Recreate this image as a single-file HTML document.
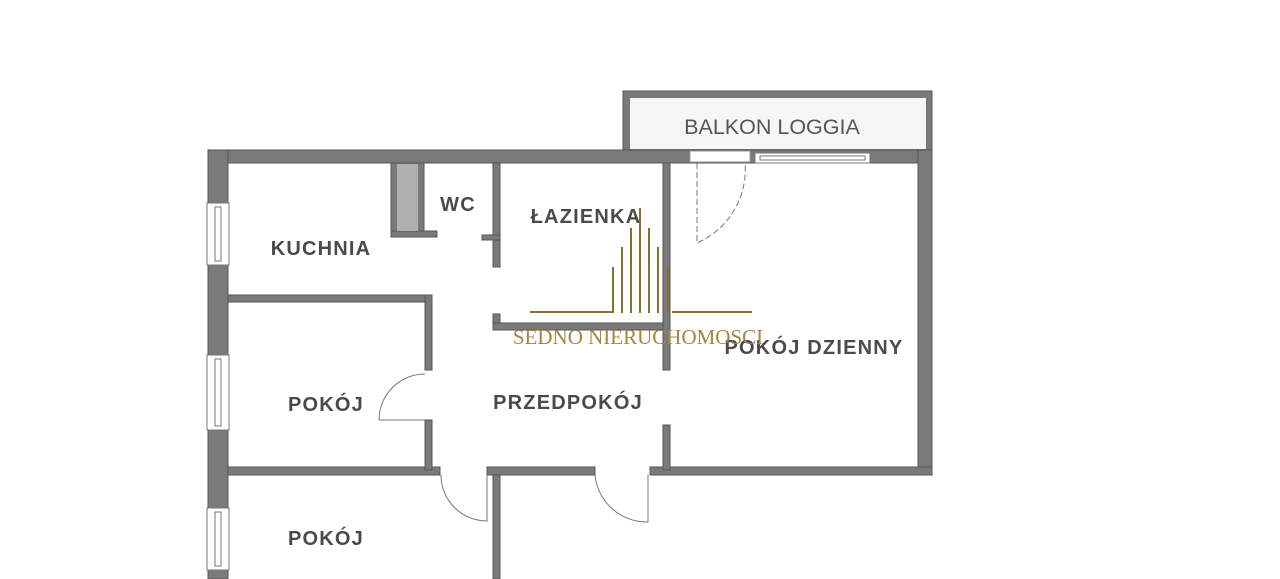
<!DOCTYPE html>
<html><head><style>
html,body{margin:0;padding:0;background:#fff;}
svg{display:block;}
text{font-family:"Liberation Sans",sans-serif;font-weight:bold;fill:#4a4a4a;}
.l{font-size:20px;letter-spacing:1.2px;}
</style></head><body>
<svg width="1280" height="579" viewBox="0 0 1280 579" xmlns="http://www.w3.org/2000/svg">
<rect width="1280" height="579" fill="#fff"/>
<g fill="#7a7a7a" stroke="#555" stroke-width="1">
<rect x="623" y="91" width="309" height="59"/>
</g>
<rect x="630" y="98" width="296" height="51" fill="#f6f6f6"/>
<g fill="#7a7a7a" stroke="#555" stroke-width="1">
<rect x="208" y="150" width="724" height="13"/>
<rect x="208" y="150" width="20" height="429"/>
<rect x="918" y="150" width="14" height="325"/>
<rect x="650" y="467" width="282" height="8"/>
<rect x="487" y="467" width="108" height="8"/>
<rect x="228" y="467" width="212" height="8"/>
<rect x="228" y="295" width="204" height="7"/>
<rect x="425" y="295" width="7" height="75"/>
<rect x="425" y="420" width="7" height="50"/>
<rect x="391" y="163" width="33" height="74"/>
<rect x="391" y="231" width="46" height="6"/>
<rect x="493" y="163" width="7" height="104"/>
<rect x="482" y="235" width="18" height="5"/>
<rect x="493" y="314" width="7" height="16"/>
<rect x="493" y="323" width="172" height="7"/>
<rect x="663" y="163" width="7" height="207"/>
<rect x="663" y="425" width="7" height="45"/>
<rect x="493" y="475" width="7" height="104"/>
</g>
<rect x="397" y="164" width="21" height="67" fill="#b0b0b0"/>
<rect x="690" y="151" width="60" height="11" fill="#fff" stroke="#999"/>
<rect x="755" y="153" width="115" height="10" fill="#fff" stroke="#777"/>
<rect x="760" y="156" width="105" height="4" fill="#fff" stroke="#777"/>
<g fill="#fff" stroke="#777">
<rect x="207" y="203" width="22" height="62"/><rect x="215" y="207" width="6" height="54"/>
<rect x="207" y="355" width="22" height="75"/><rect x="215" y="359" width="6" height="67"/>
<rect x="207" y="508" width="22" height="62"/><rect x="215" y="512" width="6" height="54"/>
</g>
<g fill="none" stroke="#777" stroke-width="1">
<path d="M697 163 V243 A80 80 0 0 0 745 163" stroke-dasharray="6 3"/>
<path d="M425 420 H379 A46 46 0 0 1 425 374"/>
<path d="M441 475 A46 46 0 0 0 487 521 V475"/>
<path d="M595 475 A52 52 0 0 0 648 522 V475"/>
</g>
<text x="772" y="134" font-size="21.5" text-anchor="middle" style="font-weight:normal;fill:#555">BALKON LOGGIA</text>
<text x="321" y="255" class="l" text-anchor="middle">KUCHNIA</text>
<text x="458" y="211" class="l" text-anchor="middle">WC</text>
<text x="586" y="223" class="l" text-anchor="middle">ŁAZIENKA</text>
<text x="326" y="411" class="l" text-anchor="middle">POKÓJ</text>
<text x="568" y="409" class="l" text-anchor="middle">PRZEDPOKÓJ</text>
<text x="814" y="354" class="l" text-anchor="middle">POKÓJ DZIENNY</text>
<text x="326" y="545" class="l" text-anchor="middle">POKÓJ</text>
<g stroke="#8a7030" stroke-width="2">
<line x1="530" y1="312" x2="612" y2="312"/>
<line x1="672" y1="312" x2="752" y2="312"/>
<line x1="613" y1="267" x2="613" y2="313"/>
<line x1="622" y1="247" x2="622" y2="313"/>
<line x1="631" y1="228" x2="631" y2="313"/>
<line x1="640" y1="208" x2="640" y2="313"/>
<line x1="649" y1="228" x2="649" y2="313"/>
<line x1="658" y1="247" x2="658" y2="313"/>
<line x1="668" y1="267" x2="668" y2="313"/>
</g>
<text x="638" y="344" font-size="21" text-anchor="middle" style="font-family:'Liberation Serif',serif;font-weight:normal;fill:#a08840">SEDNO NIERUCHOMOSCI</text>
</svg>
</body></html>
